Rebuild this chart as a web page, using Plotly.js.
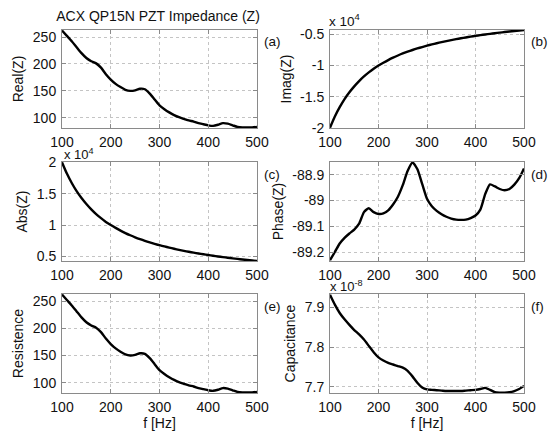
<!DOCTYPE html>
<html>
<head>
<meta charset="utf-8">
<script src="https://cdn.plot.ly/plotly-3.0.1.min.js"></script>
<style>html,body{margin:0;padding:0;background:#fff;}#chart{width:549px;height:433px;}</style>
</head>
<body>
<div id="chart"></div>
<script>
// Frequency grid [Hz]
const freq = [100,110,120,130,140,150,160,170,180,190,200,210,220,230,240,250,260,270,280,290,300,
              310,320,330,340,350,360,370,380,390,400,410,420,430,440,450,460,470,480,490,500];
// (a) Real(Z) [ohm]
const realZ = [262,252,242,231,220,211,205,201,193,181,171,163,157,152,150,151,154,153,145,134,123,
               116,110,105,101,98,95,93,90,88,86,85,87,90,89,86,83,82,82,82,83];
// (b) Imag(Z) [x 10^4 ohm]
const imagZ = [-2.0,-1.82,-1.67,-1.54,-1.43,-1.335,-1.25,-1.175,-1.11,-1.05,-1.0,-0.955,-0.912,-0.873,-0.838,
               -0.806,-0.777,-0.75,-0.725,-0.702,-0.68,-0.66,-0.641,-0.623,-0.606,-0.59,-0.575,-0.561,-0.548,
               -0.535,-0.523,-0.511,-0.5,-0.49,-0.48,-0.47,-0.461,-0.452,-0.444,-0.436,-0.428];
// (c) Abs(Z) [x 10^4 ohm]
const absZ = [2.0,1.82,1.67,1.54,1.43,1.335,1.25,1.175,1.11,1.05,1.0,0.955,0.912,0.873,0.838,
              0.806,0.777,0.75,0.725,0.702,0.68,0.66,0.641,0.623,0.606,0.59,0.575,0.561,0.548,
              0.535,0.523,0.511,0.5,0.49,0.48,0.47,0.461,0.452,0.444,0.436,0.428];
// (d) Phase(Z) [deg]
const phaseZ = [-89.232,-89.2,-89.167,-89.145,-89.128,-89.113,-89.09,-89.045,-89.03,-89.045,-89.052,-89.05,
                -89.038,-89.015,-88.985,-88.94,-88.885,-88.852,-88.877,-88.935,-88.993,-89.022,-89.04,-89.053,
                -89.063,-89.07,-89.074,-89.075,-89.074,-89.068,-89.058,-89.035,-88.975,-88.937,-88.945,-88.955,
                -88.96,-88.955,-88.938,-88.913,-88.875];
// (e) Resistence [ohm]
const resistence = [262,252,242,231,220,211,205,201,193,181,171,163,157,152,150,151,154,153,145,134,123,
                    116,110,105,101,98,95,93,90,88,86,85,87,90,89,86,83,82,82,82,83];
// (f) Capacitance [x 10^-8 F]
const capacitance = [7.932,7.907,7.886,7.87,7.856,7.843,7.832,7.819,7.803,7.787,7.774,7.766,7.76,7.756,7.752,
                     7.748,7.74,7.726,7.71,7.698,7.693,7.692,7.691,7.69,7.689,7.689,7.689,7.689,7.69,7.691,
                     7.692,7.694,7.697,7.692,7.686,7.685,7.685,7.686,7.689,7.694,7.702];

// Tick labels
const xTicks = [100,200,300,400,500];
const xTickText = ['100','200','300','400','500'];
const realTicks = [100,150,200,250];
const realTickText = ['100','150','200','250'];
const imagTicks = [-2,-1.5,-1,-0.5];
const imagTickText = ['-2','-1.5','-1','-0.5'];
const absTicks = [0.5,1,1.5,2];
const absTickText = ['0.5','1','1.5','2'];
const phaseTicks = [-89.2,-89.1,-89,-88.9];
const phaseTickText = ['-89.2','-89.1','-89','-88.9'];
const capTicks = [7.7,7.8,7.9];
const capTickText = ['7.7','7.8','7.9'];

const yTitles = ['Real(Z)','Imag(Z)','Abs(Z)','Phase(Z)','Resistence','Capacitance'];
const panelLabels = ['(a)','(b)','(c)','(d)','(e)','(f)'];

const W = 549, H = 433;
const FONT = 'Liberation Sans, Arial, sans-serif';
const colX = [[62,257],[330,524]];
const rowY = [[30,128],[162,261],[294,393]];
const series = [realZ, imagZ, absZ, phaseZ, resistence, capacitance];
const yRanges = [[81,263],[-2.005,-0.428],[0.428,2.005],[-89.235,-88.85],[81,263],[7.684,7.934]];
const yTickSets = [[realTicks,realTickText],[imagTicks,imagTickText],[absTicks,absTickText],
                   [phaseTicks,phaseTickText],[realTicks,realTickText],[capTicks,capTickText]];

const data = [];
const layout = {
  width: W, height: H,
  margin: {l:0, r:0, t:0, b:0},
  paper_bgcolor: '#fff', plot_bgcolor: '#fff',
  showlegend: false,
  font: {family: FONT, size: 14, color: '#111'},
  title: {text: 'ACX QP15N PZT Impedance (Z)', xref: 'paper', x: 158 / W, xanchor: 'center',
          yref: 'container', y: 1 - 16 / H, yanchor: 'middle',
          font: {family: FONT, size: 14, color: '#111'}},
  annotations: []
};

for (let i = 0; i < 6; i++) {
  const c = i % 2, r = Math.floor(i / 2);
  const xa = 'xaxis' + (i ? i + 1 : ''), ya = 'yaxis' + (i ? i + 1 : '');
  const xr = 'x' + (i ? i + 1 : ''), yr = 'y' + (i ? i + 1 : '');
  data.push({x: freq, y: series[i], xaxis: xr, yaxis: yr, type: 'scatter', mode: 'lines',
             line: {color: '#000', width: 2.4, shape: 'spline', smoothing: 0.6}, hoverinfo: 'skip'});
  const common = {
    showline: true, mirror: 'ticks', linecolor: '#8a8a8a', linewidth: 1,
    showgrid: true, gridcolor: '#c4c4c4', griddash: 'dot', gridwidth: 1,
    zeroline: false, ticks: 'inside', ticklen: 4, tickcolor: '#8a8a8a',
    tickfont: {family: FONT, size: 14, color: '#111'}, automargin: false, fixedrange: true
  };
  layout[xa] = Object.assign({}, common, {
    domain: [colX[c][0] / W, colX[c][1] / W], anchor: yr, range: [100, 500],
    tickmode: 'array', tickvals: xTicks, ticktext: xTickText, ticklabelstandoff: 1
  });
  if (r === 2) layout[xa].title = {text: 'f [Hz]', font: {family: FONT, size: 14, color: '#111'}, standoff: 2};
  layout[ya] = Object.assign({}, common, {
    domain: [1 - rowY[r][1] / H, 1 - rowY[r][0] / H], anchor: xr, range: yRanges[i],
    tickmode: 'array', tickvals: yTickSets[i][0], ticktext: yTickSets[i][1], ticklabelstandoff: 2,
    title: {text: yTitles[i], font: {family: FONT, size: 14, color: '#111'}, standoff: 5}
  });
  layout.annotations.push({text: panelLabels[i], xref: 'paper', yref: 'paper',
    x: (colX[c][1] + 5) / W, xanchor: 'left', y: 1 - (rowY[r][0] + 12) / H, yanchor: 'middle',
    showarrow: false, font: {family: FONT, size: 13.5, color: '#111'}});
}
// exponent labels
layout.annotations.push({text: 'x 10<sup>4</sup>', xref: 'paper', yref: 'paper', x: 327 / W, xanchor: 'left',
  y: 1 - 20 / H, yanchor: 'middle', showarrow: false, font: {family: FONT, size: 13.5, color: '#111'}});
layout.annotations.push({text: 'x 10<sup>4</sup>', xref: 'paper', yref: 'paper', x: 62 / W, xanchor: 'left',
  y: 1 - 154 / H, yanchor: 'middle', showarrow: false, font: {family: FONT, size: 13, color: '#111'}});
layout.annotations.push({text: 'x 10<sup>-8</sup>', xref: 'paper', yref: 'paper', x: 328 / W, xanchor: 'left',
  y: 1 - 286 / H, yanchor: 'middle', showarrow: false, font: {family: FONT, size: 13, color: '#111'}});

Plotly.newPlot('chart', data, layout, {staticPlot: true, displayModeBar: false});
</script>
</body>
</html>
